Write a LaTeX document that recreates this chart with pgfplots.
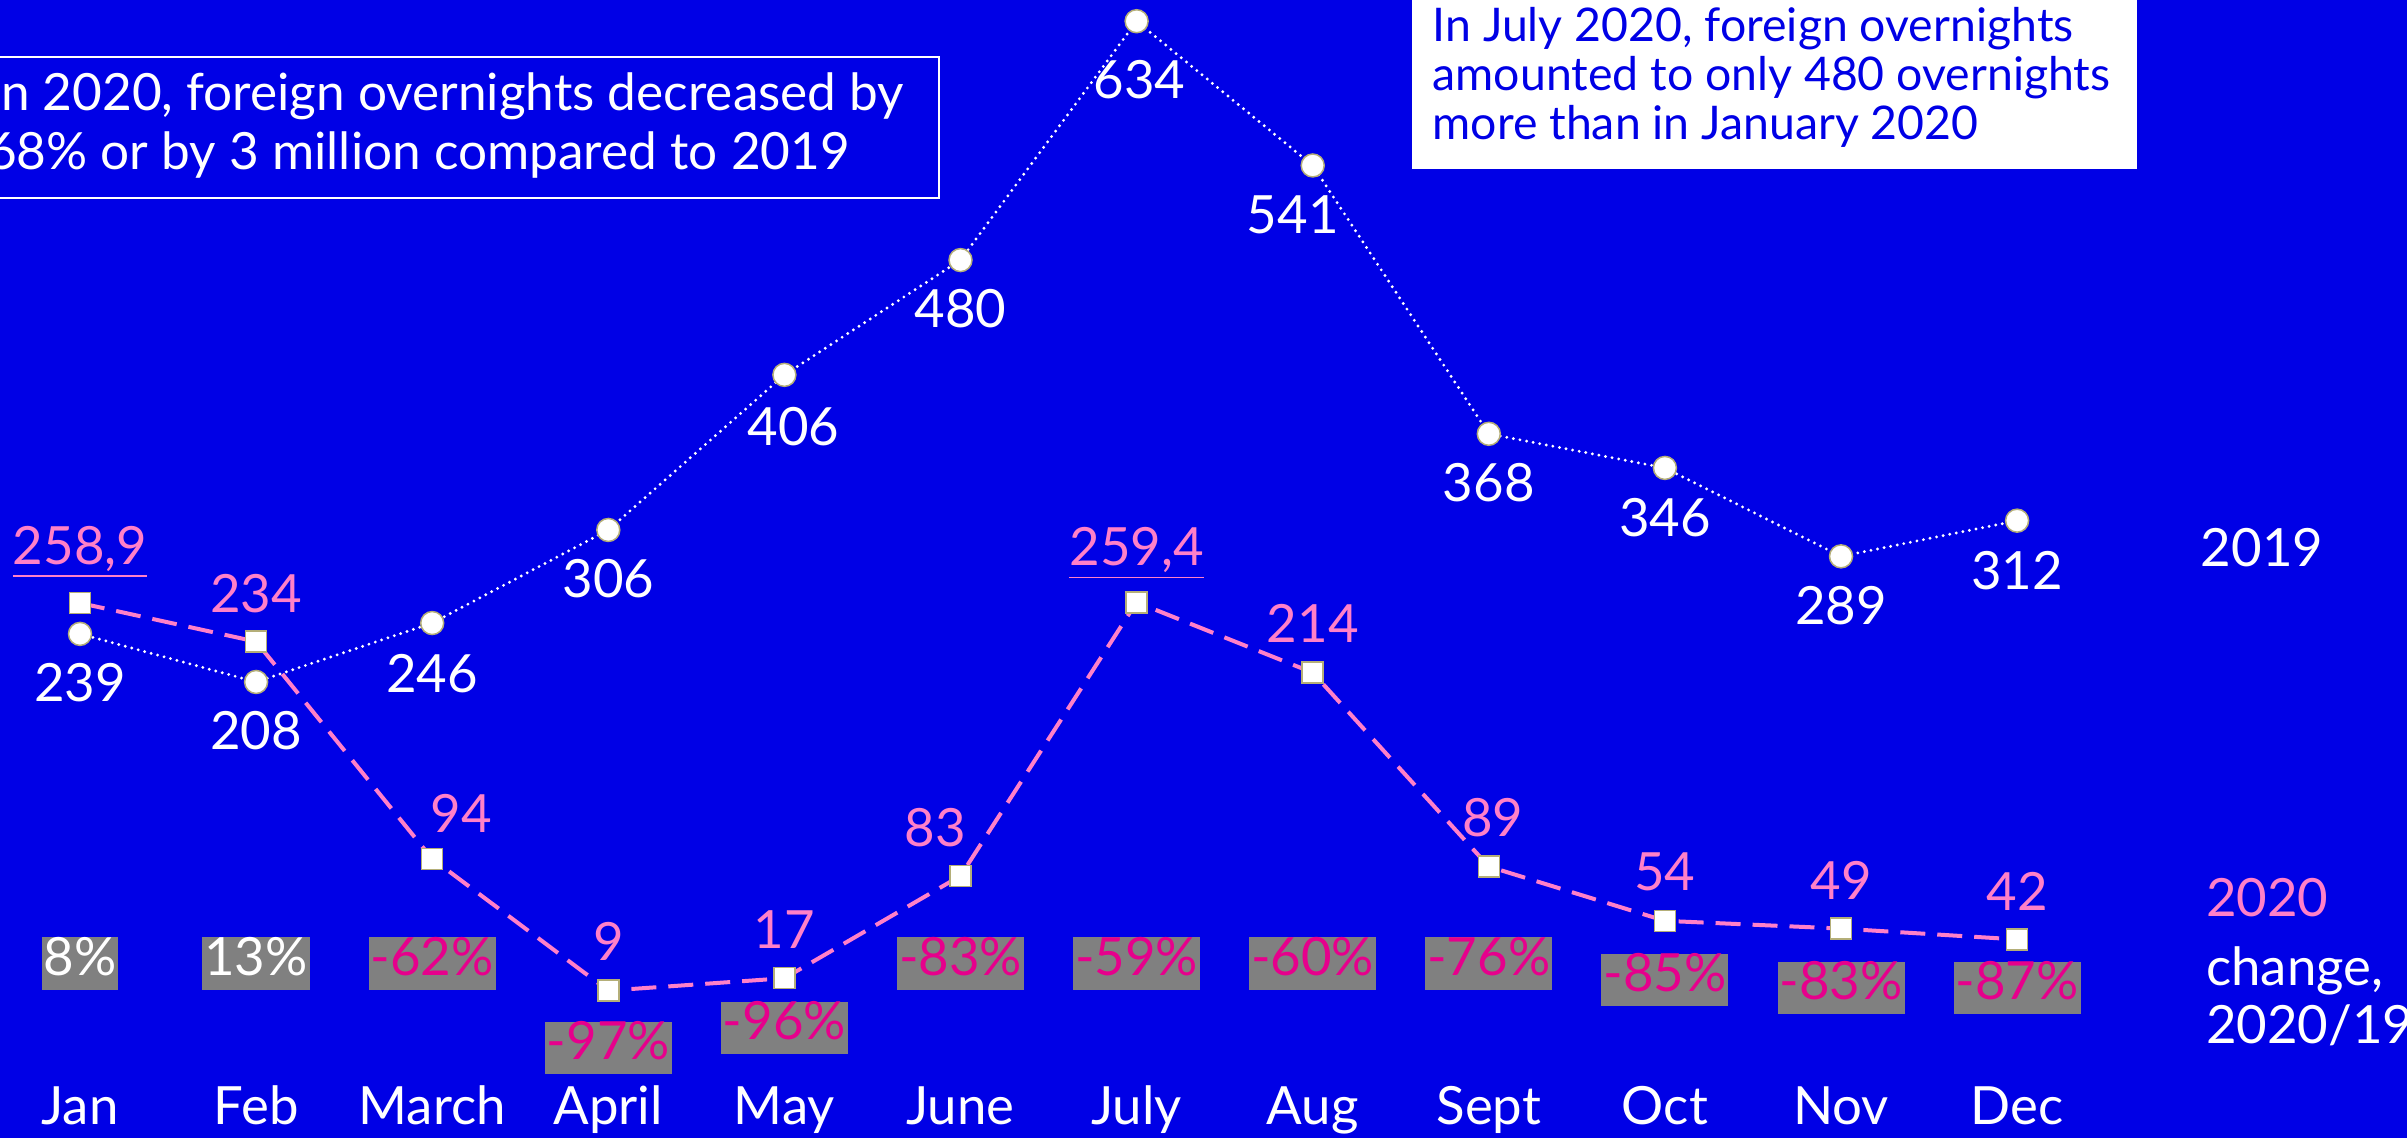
\documentclass[border=0pt]{standalone}
\usepackage{pgfplots}
\pgfplotsset{compat=1.18}
\usepackage{pgfplotstable}
\usepackage{fontspec}
\setmainfont{Lato}

\definecolor{bgblue}{HTML}{0000E6}
\definecolor{pinklt}{HTML}{FF80C8}
\definecolor{pctmag}{HTML}{E6008C}
\definecolor{boxgray}{HTML}{808080}
\definecolor{mkolive}{HTML}{B4AE78}

\newcommand\lbl{\fontsize{15}{18}\selectfont}

% 2019 overnights (thousands), label offsets in mm
\pgfplotstableread{
x y lbl dx dy
0 239 239 0 -4.9
1 208 208 0 -4.9
2 246 246 0 -5.1
3 306 306 0 -4.9
4 406 406 0.9 -5.2
5 480 480 0 -4.9
6 634 634 0.3 -5.8
7 541 541 -2.0 -4.9
8 368 368 0 -4.9
9 346 346 0 -5.0
10 289 289 0 -4.9
11 312 312 0 -5.0
}\tabA

% 2020
\pgfplotstableread{
x y lbl dx dy
0 258.9 \underline{258,9} 0 5.1
1 234 234 0 4.8
2 94 94 2.9 4.5
3 9 9 0 4.9
4 17 17 0 4.9
5 83 83 -2.5 4.8
6 259.4 \underline{259,4} 0 4.9
7 214 214 0 4.9
8 89 89 0.4 4.9
9 54 54 0 4.9
10 49 49 0 4.8
11 42 42 0 4.8
}\tabB

% change 2020/19, box positions
\pgfplotstableread{
x y lbl
0 26.5 \textcolor{white}{8\%}
1 26.5 \textcolor{white}{13\%}
2 26.5 -62\%
3 -28 -97\%
4 -15 -96\%
5 26.5 -83\%
6 26.5 -59\%
7 26.5 -60\%
8 26.5 -76\%
9 15.9 -85\%
10 10.7 -83\%
11 10.7 -87\%
}\tabC

\begin{document}
\begin{tikzpicture}
\useasboundingbox (0,0) rectangle (240.7mm,113.8mm);
\clip (0,0) rectangle (240.7mm,113.8mm);
\fill[bgblue] (0,0) rectangle (240.7mm,113.8mm);
\begin{axis}[
    at={(0,0)}, anchor=south west,
    x=17.61mm, y=0.1551mm,
    xmin=-0.4543, xmax=13.214, ymin=-86, ymax=647.7,
    axis line style={draw=none},
    major tick length=0pt,
    ytick=\empty,
    xtick={0,...,11},
    xticklabels={Jan,Feb,March,April,May,June,July,Aug,Sept,Oct,Nov,Dec},
    xticklabel style={font=\lbl, text=white, anchor=base, yshift=1.3mm},
    clip=false,
]

% annotation boxes
\draw[white, line width=0.2mm] (axis cs:-1,520) rectangle (axis cs:4.878,611);
\node[font=\fontsize{14.6}{16.6}\selectfont, text=white, align=left, anchor=west, inner sep=0pt]
    at (axis cs:-0.532,566.8) {In 2020, foreign overnights decreased by\\68\% or by 3 million compared to 2019};
\fill[white] (axis cs:7.564,538.7) rectangle (axis cs:11.681,700);
\node[font=\fontsize{13.2}{13.9}\selectfont, text=bgblue, align=left, anchor=west, inner sep=0pt]
    at (axis cs:7.677,598) {In July 2020, foreign overnights\\amounted to only 480 overnights\\more than in January 2020};

% percent change boxes
\addplot[draw=none, mark=none, nodes near coords, point meta=explicit symbolic,
    nodes near coords style={font=\lbl, text=pctmag, fill=boxgray, anchor=center,
        text height=0.74em, text depth=0.06em, inner xsep=0.2mm, inner ysep=1.2mm}]
    table[x=x, y=y, meta=lbl] {\tabC};

% 2019
\addplot[white, line width=0.32mm, dash pattern=on 0pt off 0.67mm, line cap=round,
    mark=*, mark size=1.15mm, mark options={solid, fill=white, draw=mkolive, line width=0.15mm},
    nodes near coords, point meta=explicit symbolic,
    visualization depends on={\thisrow{dx} \as \dx},
    visualization depends on={\thisrow{dy} \as \dy},
    nodes near coords style={font=\lbl, text=white, anchor=center, xshift=\dx mm, yshift=\dy mm}]
    table[x=x, y=y, meta=lbl] {\tabA};

% 2020
\addplot[pinklt, line width=0.4mm, dash pattern=on 2.5mm off 1.2mm,
    mark=square*, mark size=1.05mm, mark options={solid, fill=white, draw=mkolive, line width=0.15mm},
    nodes near coords, point meta=explicit symbolic,
    visualization depends on={\thisrow{dx} \as \dx},
    visualization depends on={\thisrow{dy} \as \dy},
    nodes near coords style={font=\lbl, text=pinklt, anchor=center, xshift=\dx mm, yshift=\dy mm}]
    table[x=x, y=y, meta=lbl] {\tabB};

% series labels on the right
\node[anchor=west, inner sep=0pt, text=white, font=\lbl] at (axis cs:12.04,294.4) {2019};
\node[anchor=west, inner sep=0pt, text=pinklt, font=\lbl] at (axis cs:12.07,68.8) {2020};
\node[anchor=west, inner sep=0pt, text=white, font=\fontsize{15}{16.5}\selectfont, align=left]
    at (axis cs:12.07,5.5) {change,\\2020/19};
\end{axis}
\end{tikzpicture}
\end{document}
